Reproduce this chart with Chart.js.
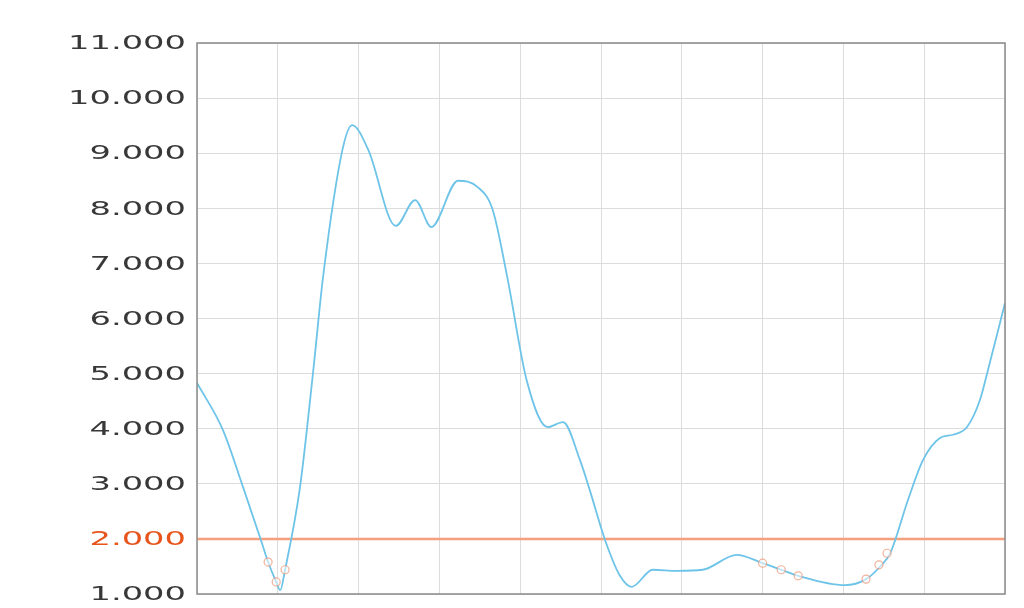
<!DOCTYPE html>
<html>
<head>
<meta charset="utf-8">
<title>Chart</title>
<script src="https://cdn.jsdelivr.net/npm/chart.js@4.4.1/dist/chart.umd.min.js"></script>
<style>
  html, body { margin: 0; padding: 0; background: #fff; }
  #wrap { width: 1024px; height: 608px; }
</style>
</head>
<body>
<div id="wrap"><canvas id="chart"></canvas></div>
<script>
// curve positions along the x axis (0..100) and their values
const curveX = [0, 3.2, 5.7, 8.0, 8.8, 9.8, 10.3, 10.9, 12.75, 14.4, 15.6, 18.0, 19.2, 21.2, 24.6, 27.0,
  29.0, 32.3, 34.7, 36.6, 38.4, 40.8, 43.4, 45.3, 47.4, 48.6, 50.5, 52.35, 53.8, 56.4, 59.4, 62.6,
  66.8, 70.0, 72.3, 74.4, 80.2, 82.8, 84.5, 85.8, 88.0, 89.85, 91.95, 93.55, 95.3, 96.9, 97.8, 100];
const curveY = [4.83, 3.98, 2.94, 1.94, 1.58, 1.22, 1.07, 1.44, 2.94, 5.07, 6.75, 9.06, 9.51, 9.06, 7.68, 8.15,
  7.66, 8.50, 8.39, 7.97, 6.75, 4.88, 4.03, 4.12, 3.43, 2.89, 1.98, 1.33, 1.13, 1.44, 1.42, 1.44,
  1.71, 1.56, 1.44, 1.33, 1.16, 1.27, 1.49, 1.74, 2.71, 3.43, 3.83, 3.89, 4.03, 4.52, 5.01, 6.28];

// flagged readings shown as small circles
const markX = [8.8, 9.8, 10.9, 70.0, 72.3, 74.4, 82.8, 84.4, 85.4];
const markY = [1.58, 1.22, 1.44, 1.56, 1.44, 1.33, 1.27, 1.53, 1.74];

// threshold line
const limitValue = 2;

// axis ranges
const xMin = 0, xMax = 100, xStep = 10;
const yMin = 1, yMax = 11, yStep = 1;

const lineColor = '#6ec4e8';
const limitColor = '#f4a07c';
const limitLabelColor = '#e8541c';
const textColor = '#383838';

const toPoints = (xs, ys) => xs.map((x, i) => ({ x: x, y: ys[i] }));

// wide tick labels drawn next to the y axis
const wideTicks = {
  id: 'wideTicks',
  afterDraw(chart) {
    const y = chart.scales.y;
    const ctx = chart.ctx;
    ctx.save();
    ctx.font = '20px "DejaVu Sans"';
    ctx.textAlign = 'right';
    ctx.textBaseline = 'middle';
    const sx = 118 / ctx.measureText('11.000').width;
    y.ticks.forEach(t => {
      const py = y.getPixelForValue(t.value);
      ctx.save();
      ctx.translate(186, py + 1);
      ctx.scale(sx, 1);
      ctx.fillStyle = t.value === limitValue ? limitLabelColor : textColor;
      ctx.fillText(t.value.toFixed(3), 0, 0);
      ctx.restore();
    });
    ctx.restore();
  }
};

// box around the plot area
const frame = {
  id: 'frame',
  afterDatasetsDraw(chart) {
    const a = chart.chartArea;
    const ctx = chart.ctx;
    ctx.save();
    ctx.strokeStyle = '#8a8a8a';
    ctx.lineWidth = 1.5;
    ctx.strokeRect(a.left, a.top, a.right - a.left, a.bottom - a.top);
    ctx.restore();
  }
};

new Chart(document.getElementById('chart'), {
  type: 'line',
  data: {
    datasets: [
      {
        data: toPoints(markX, markY),
        showLine: false,
        pointRadius: 4,
        borderWidth: 1.2,
        pointBorderColor: 'rgba(235,145,115,0.7)',
        pointBackgroundColor: 'rgba(255,255,255,0.55)',
        order: 0
      },
      {
        data: toPoints(curveX, curveY),
        borderColor: lineColor,
        borderWidth: 1.8,
        pointRadius: 0,
        cubicInterpolationMode: 'monotone',
        fill: false,
        order: 1
      },
      {
        data: [{ x: xMin, y: limitValue }, { x: xMax, y: limitValue }],
        borderColor: limitColor,
        borderWidth: 2.5,
        pointRadius: 0,
        fill: false,
        order: 2
      }
    ]
  },
  options: {
    responsive: true,
    maintainAspectRatio: false,
    animation: false,
    layout: { padding: { top: 43, right: 19, bottom: 14, left: 0 } },
    plugins: {
      legend: { display: false },
      tooltip: { enabled: false }
    },
    scales: {
      x: {
        type: 'linear',
        min: xMin,
        max: xMax,
        ticks: { display: false, stepSize: xStep },
        grid: { color: '#dcdcdc', lineWidth: 1, drawTicks: false },
        border: { display: false }
      },
      y: {
        min: yMin,
        max: yMax,
        ticks: { display: false, stepSize: yStep },
        grid: { color: '#dcdcdc', lineWidth: 1, drawTicks: false },
        border: { display: false },
        afterFit(scale) { scale.width = 197; }
      }
    }
  },
  plugins: [wideTicks, frame]
});
</script>
</body>
</html>
